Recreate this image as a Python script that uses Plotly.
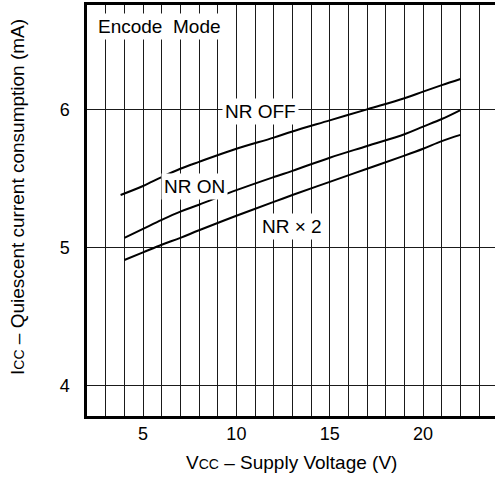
import plotly.graph_objects as go

# Data
vcc_off = [3.8, 5, 6, 7, 8, 10, 12, 13, 15, 17, 19, 20, 21, 22]
icc_nr_off = [5.38, 5.445, 5.51, 5.57, 5.62, 5.715, 5.795, 5.84, 5.92, 6.0, 6.08, 6.128, 6.175, 6.22]

vcc_on = [4, 5, 6, 7, 8, 10, 12, 13, 15, 17, 19, 20, 21, 22]
icc_nr_on = [5.07, 5.135, 5.2, 5.26, 5.31, 5.415, 5.51, 5.555, 5.65, 5.735, 5.82, 5.875, 5.93, 5.995]

vcc_x2 = [4, 5, 6, 7, 8, 10, 12, 13, 15, 17, 19, 20, 21, 22]
icc_nr_x2 = [4.91, 4.965, 5.02, 5.07, 5.125, 5.23, 5.33, 5.38, 5.475, 5.57, 5.665, 5.715, 5.77, 5.815]

x_ticks = [5, 10, 15, 20]
y_ticks = [4, 5, 6]

FONT = "Liberation Sans, Arial, Helvetica, sans-serif"
LINE = dict(color="black", width=2, shape="spline", smoothing=1.0)

fig = go.Figure()
for xs, ys, name in [(vcc_off, icc_nr_off, "NR OFF"),
                     (vcc_on, icc_nr_on, "NR ON"),
                     (vcc_x2, icc_nr_x2, "NR × 2")]:
    fig.add_trace(go.Scatter(x=xs, y=ys, mode="lines", line=LINE, name=name,
                             showlegend=False, hoverinfo="skip"))

grid_col = "#1a1a1a"
fig.update_layout(
    width=495, height=479,
    margin=dict(l=87, r=0, t=5, b=63),
    paper_bgcolor="white", plot_bgcolor="white",
    font=dict(family=FONT, size=18, color="black"),
    xaxis=dict(range=[2, 23.85], tickmode="array", tickvals=x_ticks,
               showgrid=True, gridcolor=grid_col, gridwidth=1,
               minor=dict(dtick=1, tick0=0, showgrid=True, gridcolor=grid_col, gridwidth=1),
               showline=True, linecolor="black", linewidth=2.6, mirror=True,
               ticks="", ticklabelstandoff=0, zeroline=False,
               tickfont=dict(size=18)),
    yaxis=dict(range=[3.781, 6.755], tickmode="array", tickvals=y_ticks,
               showgrid=True, gridcolor=grid_col, gridwidth=1,
               showline=True, linecolor="black", linewidth=2.6,
               ticks="", ticklabelstandoff=11, zeroline=False,
               tickfont=dict(size=18)),
)

def label(text, x, y, xanchor="center"):
    fig.add_annotation(x=x, y=y, xref="x", yref="y", text=text, showarrow=False,
                       xanchor=xanchor, yanchor="middle", bgcolor="white",
                       borderpad=2, font=dict(size=19, family=FONT, color="black"))

label("Encode  Mode", 2.45, 6.6, xanchor="left")
label("NR OFF", 11.27, 5.985)
label("NR ON", 7.78, 5.445)
label("NR × 2", 12.96, 5.15)

fig.add_annotation(xref="paper", yref="paper", x=0.502, y=-(462 - 416) / 411,
                   text="V<span style='font-size:14px'>CC</span> – Supply Voltage (V)",
                   showarrow=False, xanchor="center", yanchor="middle",
                   font=dict(size=19, family=FONT, color="black"))
fig.add_annotation(xref="paper", yref="paper", x=-(87 - 18) / 408, y=0.533,
                   text="I<span style='font-size:14px'>CC</span> – Quiescent current consumption (mA)",
                   showarrow=False, xanchor="center", yanchor="middle", textangle=-90,
                   font=dict(size=19, family=FONT, color="black"))

fig.write_html("out.html", post_script="document.body.style.margin='0';",
               config={"displayModeBar": False, "staticPlot": True})
